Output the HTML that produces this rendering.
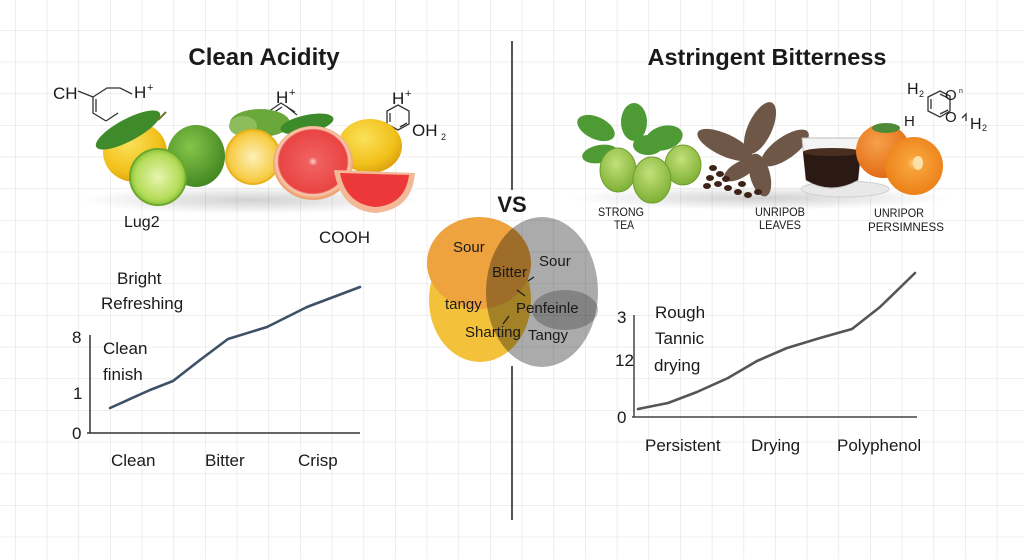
<!DOCTYPE html>
<html><head><meta charset="utf-8"><style>
html,body{margin:0;padding:0;background:#fff;}
svg{display:block;}
text{font-family:"Liberation Sans",Arial,sans-serif;fill:#1a1a1a;}
</style></head><body>
<svg width="1024" height="559" viewBox="0 0 1024 559" xmlns="http://www.w3.org/2000/svg">
<defs>
<pattern id="grid" x="15" y="30" width="31.67" height="31.67" patternUnits="userSpaceOnUse">
<path d="M0 0 H31.67 M0 0 V31.67" stroke="#e4e4e4" stroke-width="1.3" fill="none"/>
</pattern>
<radialGradient id="lemon" cx="40%" cy="35%" r="70%"><stop offset="0" stop-color="#fbe15a"/><stop offset="0.7" stop-color="#f1c01a"/><stop offset="1" stop-color="#d99e0c"/></radialGradient>
<radialGradient id="lime" cx="40%" cy="35%" r="70%"><stop offset="0" stop-color="#86c44a"/><stop offset="1" stop-color="#3f8420"/></radialGradient>
<radialGradient id="limecut" cx="50%" cy="50%" r="50%"><stop offset="0" stop-color="#e8f5b0"/><stop offset="0.8" stop-color="#b4dc58"/><stop offset="1" stop-color="#8cc23c"/></radialGradient>
<radialGradient id="lemoncut" cx="50%" cy="50%" r="50%"><stop offset="0" stop-color="#fdf0b8"/><stop offset="0.8" stop-color="#f8cf4e"/><stop offset="1" stop-color="#f2c030"/></radialGradient>
<radialGradient id="grape" cx="50%" cy="48%" r="50%"><stop offset="0" stop-color="#fbd2c8"/><stop offset="0.12" stop-color="#f06060"/><stop offset="0.85" stop-color="#ea4444"/><stop offset="0.9" stop-color="#f7cbb0"/><stop offset="1" stop-color="#f0a070"/></radialGradient>
<radialGradient id="pers" cx="40%" cy="35%" r="70%"><stop offset="0" stop-color="#f7a04a"/><stop offset="1" stop-color="#e06810"/></radialGradient>
<radialGradient id="perscut" cx="50%" cy="45%" r="55%"><stop offset="0" stop-color="#fcd08a"/><stop offset="0.2" stop-color="#f7a33a"/><stop offset="1" stop-color="#ec8018"/></radialGradient>
<radialGradient id="hop" cx="45%" cy="35%" r="70%"><stop offset="0" stop-color="#c3e07a"/><stop offset="1" stop-color="#79ad30"/></radialGradient>
<radialGradient id="shadow" cx="50%" cy="50%" r="50%"><stop offset="0" stop-color="#000" stop-opacity="0.18"/><stop offset="1" stop-color="#000" stop-opacity="0"/></radialGradient>
</defs>
<rect width="1024" height="559" fill="#fff"/>
<rect width="1024" height="559" fill="url(#grid)"/>

<!-- divider -->
<line x1="512" y1="41" x2="512" y2="190" stroke="#2a2a2a" stroke-width="1.6"/>
<line x1="512" y1="366" x2="512" y2="520" stroke="#2a2a2a" stroke-width="1.6"/>

<!-- titles -->
<text x="264" y="65" font-size="24" font-weight="bold" text-anchor="middle">Clean Acidity</text>
<text x="767" y="65" font-size="23.5" font-weight="bold" text-anchor="middle">Astringent Bitterness</text>

<!-- LEFT molecules -->
<text x="53" y="99" font-size="17">CH</text>
<g stroke="#333" stroke-width="1.3" fill="none">
<polyline points="78,91 93,97 93,113 106,121"/>
<polyline points="96,99 96,112"/>
<polyline points="93,97 107,88 120,88 132,94"/>
<polyline points="106,121 118,113"/>
</g>
<text x="134" y="98" font-size="17">H</text><text x="147" y="91" font-size="11">+</text>
<text x="276" y="103" font-size="17">H</text><text x="289" y="96" font-size="11">+</text>
<g stroke="#333" stroke-width="1.3" fill="none">
<polyline points="268,112 281,103 295,112"/><polyline points="270,115 282,107"/><polyline points="286,106 297,115"/>
</g>
<text x="392" y="104" font-size="17">H</text><text x="405" y="97" font-size="11">+</text>
<g stroke="#333" stroke-width="1.3" fill="none">
<polygon points="398,105 409,111 409,124 398,130 387,124 387,111"/>
<polyline points="390,113 390,122"/><polyline points="400,127 407,123"/>
</g>
<text x="412" y="136" font-size="17">OH</text><text x="441" y="140" font-size="9">2</text>

<!-- shadows -->
<ellipse cx="250" cy="200" rx="170" ry="14" fill="url(#shadow)"/>
<ellipse cx="760" cy="198" rx="190" ry="12" fill="url(#shadow)"/>

<!-- LEFT fruits -->
<ellipse cx="260" cy="123" rx="30" ry="14" fill="#6aa83c"/>
<ellipse cx="243" cy="126" rx="14" ry="10" fill="#8cbc5c"/>
<ellipse cx="135" cy="152" rx="32" ry="30" fill="url(#lemon)"/>
<ellipse cx="128" cy="130" rx="36" ry="11" fill="#3f8a2a" transform="rotate(-28 128 130)"/>
<line x1="158" y1="120" x2="166" y2="112" stroke="#6a7a2a" stroke-width="2"/>
<ellipse cx="196" cy="156" rx="29" ry="31" fill="url(#lime)"/>
<circle cx="158" cy="177" r="28" fill="url(#limecut)"/>
<circle cx="158" cy="177" r="28" fill="none" stroke="#6aa82e" stroke-width="2"/>
<circle cx="253" cy="157" r="27" fill="url(#lemoncut)"/>
<circle cx="253" cy="157" r="27" fill="none" stroke="#eab21a" stroke-width="2"/>
<ellipse cx="307" cy="124" rx="27" ry="9" fill="#3c8a2a" transform="rotate(-12 307 124)"/>
<ellipse cx="370" cy="146" rx="32" ry="27" fill="url(#lemon)"/>
<ellipse cx="313" cy="163" rx="40" ry="37" fill="url(#grape)"/>
<path d="M334 170 L415 173 Q412 210 375 213 Q340 210 334 170 Z" fill="#f2b898"/>
<path d="M340 173 L409 175 Q405 205 375 207 Q346 204 340 173 Z" fill="#ec3838"/>

<text x="124" y="227" font-size="16">Lug2</text>
<text x="319" y="243" font-size="17">COOH</text>

<!-- RIGHT molecule -->
<text x="907" y="94" font-size="16">H</text><text x="919" y="97" font-size="9">2</text>
<g stroke="#333" stroke-width="1.3" fill="none">
<polygon points="928,97 940,91 950,96 950,111 940,117 928,111"/>
<polyline points="931,99 931,109"/><polyline points="940,94 948,98"/><polyline points="940,114 948,110"/>
<polyline points="962,118 966,114 966,121"/>
</g>
<text x="945" y="100" font-size="15">O</text><text x="959" y="93" font-size="7">n</text>
<text x="945" y="122" font-size="15">O</text>
<text x="904" y="126" font-size="15">H</text>
<text x="970" y="129" font-size="16">H</text><text x="982" y="131" font-size="9">2</text>

<!-- hops -->
<g fill="#4e9a34">
<ellipse cx="596" cy="128" rx="20" ry="11" transform="rotate(25 596 128)"/>
<ellipse cx="634" cy="122" rx="13" ry="19"/>
<ellipse cx="664" cy="138" rx="19" ry="12" transform="rotate(-15 664 138)"/>
<ellipse cx="600" cy="154" rx="18" ry="9" transform="rotate(-10 600 154)"/>
<ellipse cx="648" cy="145" rx="15" ry="10"/>
</g>
<ellipse cx="683" cy="165" rx="18" ry="20" fill="url(#hop)" stroke="#6e9e2e" stroke-width="1"/>
<ellipse cx="618" cy="170" rx="18" ry="22" fill="url(#hop)" stroke="#6e9e2e" stroke-width="1"/>
<ellipse cx="652" cy="180" rx="19" ry="23" fill="url(#hop)" stroke="#6e9e2e" stroke-width="1"/>

<!-- brown leaves & beans -->
<g fill="#6e5746">
<ellipse cx="725" cy="145" rx="30" ry="11" transform="rotate(25 725 145)"/>
<ellipse cx="760" cy="128" rx="12" ry="28" transform="rotate(25 760 128)"/>
<ellipse cx="785" cy="148" rx="28" ry="11" transform="rotate(-35 785 148)"/>
<ellipse cx="760" cy="175" rx="10" ry="22" transform="rotate(-15 760 175)"/>
<ellipse cx="740" cy="170" rx="18" ry="8" transform="rotate(-30 740 170)"/>
</g>
<g fill="#3e2418">
<ellipse cx="713" cy="168" rx="4" ry="3"/><ellipse cx="720" cy="174" rx="4" ry="3"/><ellipse cx="710" cy="178" rx="4" ry="3"/>
<ellipse cx="718" cy="184" rx="4" ry="3"/><ellipse cx="728" cy="188" rx="4" ry="3"/><ellipse cx="738" cy="192" rx="4" ry="3"/>
<ellipse cx="748" cy="195" rx="4" ry="3"/><ellipse cx="758" cy="192" rx="4" ry="3"/><ellipse cx="726" cy="179" rx="4" ry="3"/>
<ellipse cx="742" cy="184" rx="4" ry="3"/><ellipse cx="707" cy="186" rx="4" ry="3"/>
</g>
<!-- tea cup -->
<ellipse cx="845" cy="189" rx="44" ry="8" fill="#e8e8e8" stroke="#cfcfcf"/>
<path d="M802 138 L862 138 L858 180 Q831 196 806 180 Z" fill="#f4f4f4" stroke="#bdbdbd"/>
<path d="M803 152 L861 152 L858 180 Q831 195 806 180 Z" fill="#2b1a14"/>
<ellipse cx="832" cy="152" rx="29" ry="4" fill="#4a2e20"/>
<path d="M861 150 Q878 152 868 172" fill="none" stroke="#c8c8c8" stroke-width="2.5"/>

<!-- persimmons -->
<circle cx="883" cy="151" r="27" fill="url(#pers)"/>
<ellipse cx="886" cy="128" rx="14" ry="5" fill="#4f8a36"/>
<circle cx="914" cy="166" r="29" fill="url(#perscut)"/>
<ellipse cx="918" cy="163" rx="5" ry="7" fill="#fde0a8"/>

<!-- right labels -->
<g font-size="12">
<text x="598" y="216" textLength="46" lengthAdjust="spacingAndGlyphs">STRONG</text>
<text x="614" y="229" textLength="20" lengthAdjust="spacingAndGlyphs">TEA</text>
<text x="755" y="216" textLength="50" lengthAdjust="spacingAndGlyphs">UNRIPOB</text>
<text x="759" y="229" textLength="42" lengthAdjust="spacingAndGlyphs">LEAVES</text>
<text x="874" y="217" textLength="50" lengthAdjust="spacingAndGlyphs">UNRIPOR</text>
<text x="868" y="231" textLength="76" lengthAdjust="spacingAndGlyphs">PERSIMNESS</text>
</g>

<!-- VS -->
<text x="512" y="212" font-size="22" font-weight="bold" text-anchor="middle">VS</text>

<!-- Venn -->
<ellipse cx="480" cy="300" rx="51" ry="62" fill="#f4c23a"/>
<ellipse cx="479" cy="263" rx="52" ry="46" fill="#eea33e"/>
<g style="mix-blend-mode:multiply">
<ellipse cx="542" cy="292" rx="56" ry="75" fill="#ababab"/>
</g>
<g style="mix-blend-mode:multiply" opacity="0.6">
<ellipse cx="565" cy="310" rx="33" ry="20" fill="#9a9a9a"/>
</g>
<g font-size="15">
<text x="453" y="252">Sour</text>
<text x="492" y="277">Bitter</text>
<text x="539" y="266">Sour</text>
<text x="445" y="309">tangy</text>
<text x="516" y="313">Penfeinle</text>
<text x="465" y="337">Sharting</text>
<text x="528" y="340">Tangy</text>
</g>
<g stroke="#1a1a1a" stroke-width="1.2">
<line x1="534" y1="277" x2="528" y2="281"/>
<line x1="517" y1="290" x2="525" y2="296"/>
<line x1="509" y1="316" x2="503" y2="324"/>
</g>

<!-- LEFT chart -->
<g stroke="#333" stroke-width="1.5">
<line x1="90" y1="335" x2="90" y2="433"/>
<line x1="87" y1="433" x2="360" y2="433"/>
</g>
<polyline points="110,408 150,390 173,381 200,360 228,339 267,327 307,307 360,287" fill="none" stroke="#3d5166" stroke-width="2.6" stroke-linejoin="round" stroke-linecap="round"/>
<g font-size="17">
<text x="72" y="343">8</text>
<text x="73" y="399">1</text>
<text x="72" y="439">0</text>
<text x="117" y="284">Bright</text>
<text x="101" y="309">Refreshing</text>
<text x="103" y="354">Clean</text>
<text x="103" y="380">finish</text>
<text x="111" y="466">Clean</text>
<text x="205" y="466">Bitter</text>
<text x="298" y="466">Crisp</text>
</g>

<!-- RIGHT chart -->
<g stroke="#444" stroke-width="1.5">
<line x1="634" y1="315" x2="634" y2="417"/>
<line x1="632" y1="417" x2="917" y2="417"/>
</g>
<polyline points="638,409 668,403 697,392 728,378 757,361 787,348 820,338 852,329 880,307 915,273" fill="none" stroke="#555" stroke-width="2.6" stroke-linejoin="round" stroke-linecap="round"/>
<g font-size="17">
<text x="617" y="323">3</text>
<text x="615" y="366">12</text>
<text x="617" y="423">0</text>
<text x="655" y="318">Rough</text>
<text x="655" y="344">Tannic</text>
<text x="654" y="371">drying</text>
<text x="645" y="451">Persistent</text>
<text x="751" y="451">Drying</text>
<text x="837" y="451">Polyphenol</text>
</g>
</svg>
</body></html>
